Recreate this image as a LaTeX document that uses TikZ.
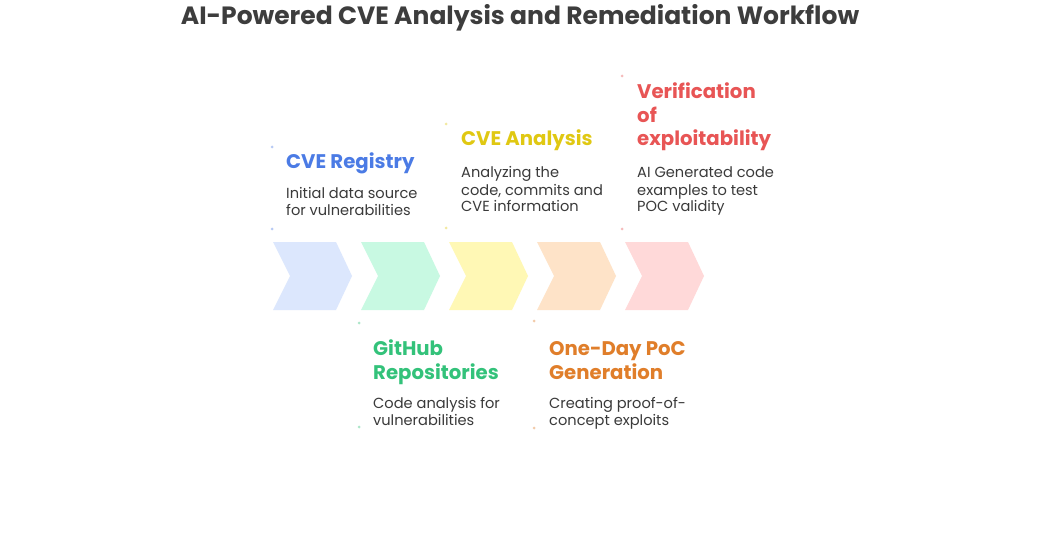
\documentclass[tikz,border=0pt]{standalone}
\usepackage{fontspec}
\setmainfont{Poppins}
\definecolor{titlegray}{HTML}{3D3D3D}
\definecolor{bodygray}{HTML}{3A3A3A}
\definecolor{cblue}{HTML}{4B7BE5}
\definecolor{cgreen}{HTML}{33C27A}
\definecolor{cyellow}{HTML}{E0C812}
\definecolor{corange}{HTML}{E07E2A}
\definecolor{cred}{HTML}{E85555}
\definecolor{fblue}{HTML}{DCE7FD}
\definecolor{fgreen}{HTML}{C8F9E2}
\definecolor{fyellow}{HTML}{FFF8B5}
\definecolor{forange}{HTML}{FEE3C8}
\definecolor{fred}{HTML}{FFD9D9}
\begin{document}
\begin{tikzpicture}[x=1pt,y=-1pt,
  heading/.style={anchor=base west,inner sep=0pt,align=left,font=\fontsize{19.7}{23.5}\selectfont\bfseries},
  body/.style={anchor=base west,inner sep=0pt,align=left,text=bodygray,font=\fontsize{14.6}{17}\selectfont},
  marker/.style={circle,inner sep=0pt,minimum size=3pt,fill=#1,opacity=0.4}]
\useasboundingbox (0,0) rectangle (1040,545);
\fill[white] (0,0) rectangle (1040,545);
% title
\node[anchor=base,inner sep=0pt,text=titlegray,font=\fontsize{25}{29}\selectfont\bfseries] (title) at (520,25) {AI-Powered CVE Analysis and Remediation Workflow};
% chevrons
\foreach \x/\c [count=\i] in {273/fblue,361/fgreen,449/fyellow,537/forange,625/fred}{
  \fill[\c] (\x,242) -- ++(63,0) -- ++(16,34) -- ++(-16,34) -- ++(-63,0) -- ++(17,-34) -- cycle;
}
% markers
\node[marker=cblue] (m1a) at (272,147) {};
\node[marker=cblue] (m1b) at (272,229) {};
\node[marker=cyellow] (m2a) at (446,124) {};
\node[marker=cyellow] (m2b) at (446,228) {};
\node[marker=cred] (m3a) at (622,76) {};
\node[marker=cred] (m3b) at (622,229) {};
\node[marker=cgreen] (m4a) at (359,323) {};
\node[marker=cgreen] (m4b) at (359,427) {};
\node[marker=corange] (m5a) at (534,321) {};
\node[marker=corange] (m5b) at (534,428) {};
% texts (base anchor = baseline of last line)
\node[heading,text=cblue] (h1) at (286,169) {CVE Registry};
\node[body] (b1) at (286,215) {Initial data source\\for vulnerabilities};
\node[heading,text=cyellow] (h2) at (461,146) {CVE Analysis};
\node[body] (b2) at (461,212) {Analyzing the\\code, commits and\\CVE information};
\node[heading,text=cred] (h3) at (637,146) {Verification\\of\\exploitability};
\node[body] (b3) at (637,212) {AI Generated code\\examples to test\\POC validity};
\node[heading,text=cgreen] (h4) at (373,379) {GitHub\\Repositories};
\node[body] (b4) at (373,425) {Code analysis for\\vulnerabilities};
\node[heading,text=corange] (h5) at (549,379) {One-Day PoC\\Generation};
\node[body] (b5) at (549,425) {Creating proof-of-\\concept exploits};
\end{tikzpicture}
\end{document}
